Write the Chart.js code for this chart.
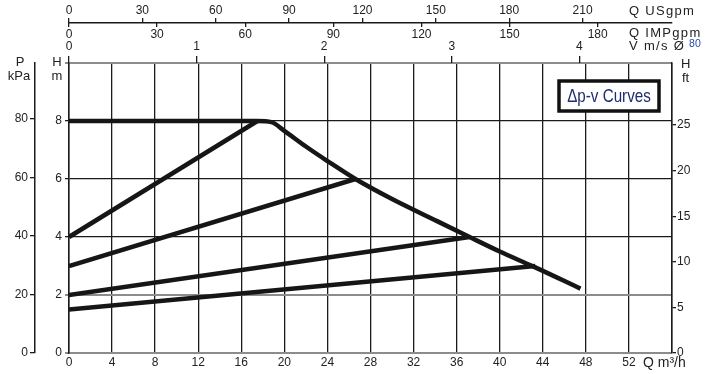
<!DOCTYPE html>
<html>
<head>
<meta charset="utf-8">
<script src="https://cdn.jsdelivr.net/npm/chart.js@4.4.0/dist/chart.umd.min.js"></script>
<style>
  html, body { margin: 0; padding: 0; background: #fff; }
  #chart { display: block; }
</style>
</head>
<body>
<canvas id="chart" width="708" height="374"></canvas>
<script>
// max curve, Q in m3/h, H in m
const maxQ = [0, 17.5, 18.8, 20, 22, 24, 26.6, 30, 34, 37.2, 40, 43.2, 47.5];
const maxH = [8, 8, 7.96, 7.66, 7.12, 6.62, 6.0, 5.31, 4.58, 4.0, 3.5, 2.97, 2.22];

// proportional pressure curves
const pp1Q = [0, 17.5];  const pp1H = [4, 8];
const pp2Q = [0, 26.6];  const pp2H = [3, 6];
const pp3Q = [0, 37.2];  const pp3H = [2, 4];
const pp4Q = [0, 43.3];  const pp4H = [1.5, 3];

// axis ranges + ticks
const Q_MAX = 56;
const H_MAX = 10;
const qTicks = [0, 4, 8, 12, 16, 20, 24, 28, 32, 36, 40, 44, 48, 52];
const hTicks = [0, 2, 4, 6, 8];
const kpaTicks = [0, 20, 40, 60, 80];
const ftTicks = [0, 5, 10, 15, 20, 25];
const usTicks = [0, 30, 60, 90, 120, 150, 180, 210];
const impTicks = [0, 30, 60, 90, 120, 150, 180];
const vTicks = [0, 1, 2, 3, 4];
const darkH = [4, 6, 8];

// unit factors (as printed on the sheet)
const M3H_TO_USGPM = 4.403;
const M3H_TO_IMPGPM = 3.666;
const M3H_PER_MS = 11.85;
const M_TO_KPA = 9.9;
const M_TO_FT = 3.18;

const DARK = '#1b1b1b';
const GRAY = '#8c8c8c';
const TXT = '#222';
const FONT = '"Liberation Sans", Arial, sans-serif';
const tickFont = { family: FONT, size: 12 };

function pts(q, h) {
  return q.map((v, i) => ({ x: v, y: h[i] }));
}
function fixedTicks(values) {
  return scale => { scale.ticks = values.map(v => ({ value: v })); };
}
function curve(q, h, smooth) {
  return {
    data: pts(q, h),
    borderColor: '#161616',
    borderWidth: 4.5,
    borderCapStyle: 'butt',
    borderJoinStyle: 'round',
    pointRadius: 0,
    fill: false,
    tension: 0,
    cubicInterpolationMode: smooth ? 'monotone' : 'default',
    xAxisID: 'x',
    yAxisID: 'y'
  };
}

const overlay = {
  id: 'overlay',
  afterDraw(chart) {
    const c = chart.ctx;
    c.save();
    c.fillStyle = TXT;
    c.textBaseline = 'middle';
    c.font = '13px ' + FONT;
    c.textAlign = 'center';
    c.fillText('P', 20, 62);
    c.fillText('kPa', 19, 76);
    c.fillText('H', 57, 62);
    c.fillText('m', 57, 76);
    c.textAlign = 'left';
    c.fillText('H', 681, 64);
    c.fillText('ft', 682, 78);

    c.font = '13px ' + FONT;
    c.letterSpacing = '1.3px';
    c.fillText('Q USgpm', 629, 11);
    c.fillText('Q IMPgpm', 629, 33);
    c.fillText('V m/s Ø', 629, 46);
    const w = c.measureText('V m/s Ø').width;
    c.letterSpacing = '0px';
    c.fillStyle = '#2b4aa8';
    c.font = '10.5px ' + FONT;
    c.fillText('80', 633 + w, 44);
    c.fillStyle = TXT;
    c.font = '14px ' + FONT;
    c.fillText('Q m³/h', 643, 363);

    // legend box
    c.fillStyle = '#fff';
    c.fillRect(558, 80, 103, 32);
    c.strokeStyle = '#111';
    c.lineWidth = 3.5;
    c.strokeRect(559, 81, 100, 30);
    c.fillStyle = '#1e2d6b';
    c.textAlign = 'center';
    c.font = '19px ' + FONT;
    c.translate(609, 97);
    c.scale(0.8, 1);
    c.fillText('Δp-v Curves', 0, 0);
    c.restore();
  }
};

new Chart(document.getElementById('chart').getContext('2d'), {
  type: 'line',
  data: {
    datasets: [
      curve(maxQ, maxH, true),
      curve(pp1Q, pp1H),
      curve(pp2Q, pp2H),
      curve(pp3Q, pp3H),
      curve(pp4Q, pp4H)
    ]
  },
  options: {
    responsive: false,
    animation: false,
    layout: { padding: 0 },
    plugins: { legend: { display: false }, tooltip: { enabled: false } },
    scales: {
      x: {
        type: 'linear', position: 'bottom', min: 0, max: Q_MAX,
        afterBuildTicks: fixedTicks([...qTicks, Q_MAX]),
        afterFit: s => { s.height = 21; },
        border: { display: true, color: GRAY, width: 2 },
        grid: { color: DARK, lineWidth: 1.3, drawTicks: false },
        ticks: { font: tickFont, color: TXT, padding: 2, maxRotation: 0, autoSkip: false,
                 callback: v => qTicks.includes(v) ? v : '' }
      },
      y: {
        type: 'linear', position: 'left', weight: 0, min: 0, max: H_MAX,
        afterBuildTicks: fixedTicks([...hTicks, H_MAX]),
        afterFit: s => { s.width = 34; },
        border: { display: true, color: DARK, width: 1.5 },
        grid: {
          color: c => (c.tick && darkH.includes(c.tick.value)) ? DARK : GRAY,
          lineWidth: c => (c.tick && darkH.includes(c.tick.value)) ? 1.3 : 2,
          tickLength: 4
        },
        ticks: { font: tickFont, color: TXT, padding: 3, autoSkip: false,
                 callback: v => hTicks.includes(v) ? v : '' }
      },
      yP: {
        type: 'linear', position: 'left', weight: 1, min: 0, max: H_MAX * M_TO_KPA,
        afterBuildTicks: fixedTicks(kpaTicks),
        afterFit: s => { s.width = 35; },
        border: { display: true, color: DARK, width: 1.5 },
        grid: { drawOnChartArea: false, color: DARK, lineWidth: 1.3, tickLength: 5 },
        ticks: { font: tickFont, color: TXT, padding: 2, autoSkip: false }
      },
      yFt: {
        type: 'linear', position: 'right', min: 0, max: H_MAX * M_TO_FT,
        afterBuildTicks: fixedTicks(ftTicks),
        afterFit: s => { s.width = 36; },
        border: { display: true, color: DARK, width: 1.5 },
        grid: { drawOnChartArea: false, color: DARK, lineWidth: 1.3, tickLength: 4 },
        ticks: { font: tickFont, color: TXT, padding: 1, autoSkip: false }
      },
      xUS: {
        type: 'linear', position: 'top', weight: 2, min: 0, max: Q_MAX * M3H_TO_USGPM,
        afterBuildTicks: fixedTicks(usTicks),
        afterFit: s => { s.height = 23; },
        border: { display: true, color: DARK, width: 1.5 },
        grid: { drawOnChartArea: false, color: DARK, lineWidth: 1.3, tickLength: 5 },
        ticks: { font: tickFont, color: TXT, padding: 0, maxRotation: 0, autoSkip: false }
      },
      xIMP: {
        type: 'linear', position: 'top', weight: 1, min: 0, max: Q_MAX * M3H_TO_IMPGPM,
        afterBuildTicks: fixedTicks(impTicks),
        afterFit: s => { s.height = 0; },
        border: { display: false },
        grid: { drawOnChartArea: false, color: DARK, lineWidth: 1.3, tickLength: -4 },
        ticks: { font: tickFont, color: TXT, padding: 4, mirror: true, maxRotation: 0, autoSkip: false }
      },
      xV: {
        type: 'linear', position: 'top', weight: 0, min: 0, max: Q_MAX / M3H_PER_MS,
        afterBuildTicks: fixedTicks(vTicks),
        afterFit: s => { s.height = 40; },
        border: { display: false },
        grid: { drawOnChartArea: false, color: DARK, lineWidth: 1.3, tickLength: 7 },
        ticks: { font: tickFont, color: TXT, padding: 2, maxRotation: 0, autoSkip: false }
      }
    }
  },
  plugins: [overlay]
});
</script>
</body>
</html>
